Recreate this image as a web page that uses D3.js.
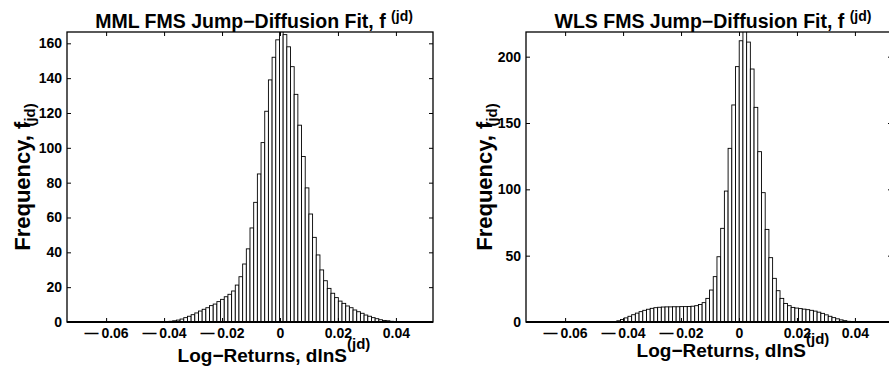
<!DOCTYPE html>
<html>
<head>
<meta charset="utf-8">
<script src="https://cdn.jsdelivr.net/npm/d3@7"></script>
<style>
  body { margin: 0; background: #fff; }
  svg text { font-family: "Liberation Sans", Arial, Helvetica, sans-serif; font-weight: bold; fill: #000; }
</style>
</head>
<body>
<svg id="chart" width="889" height="369"></svg>
<script>
// ---- data ----

// MML fit histogram: bin centre of the first bar, bin width, bar heights
const mmlFirstCenter = -0.03892;
const mmlBinWidth = 0.00127;
const mmlCounts = [
  0.2, 0.4, 0.7, 1.1, 1.7, 2.5, 3.3, 4.2, 5.2, 6.3, 7.3, 8.2, 9.4, 10.3, 11.7, 13,
  14.5, 15.9, 17.8, 21.2, 26, 33.3, 42, 54, 68.7, 85, 103, 121, 139, 152, 162,
  172,
  165, 158, 146.6, 130.7, 113, 95, 77, 62, 48.6, 38.5, 29.9, 23.7, 19.3, 16.5, 14,
  12, 10.7, 9.2, 8.2, 6.9, 5.9, 5, 4, 3.3, 2.5, 1.9, 1.3, 0.9, 0.7, 0.4, 0.2
];

// WLS fit histogram
const wlsFirstCenter = -0.0428;
const wlsBinWidth = 0.00128;
const wlsCounts = [
  0.3, 0.9, 1.9, 3.1, 4.3, 5.5, 6.7, 7.8, 8.8, 9.6, 10.3, 10.8, 11.1, 11.3, 11.4,
  11.4, 11.5, 11.5, 11.6, 11.6, 11.7, 11.9, 12.3, 13.2, 14.6, 17.8, 24.1, 34.2,
  49.2, 70.6, 98.7, 130.9, 163.6, 192.5, 212,
  225,
  211, 190.7, 161.8, 128.4, 97.5, 69.8, 48.5, 32.9, 23.6, 17.8, 14, 12.3, 11, 10.5,
  10.1, 9.7, 9.3, 8.8, 8.2, 7.4, 6.5, 5.4, 4.3, 3.3, 2.4, 1.6, 1.0, 0.5, 0.2
];

const xDomain = [-0.0735, 0.0528];
const xTicks = [-0.06, -0.04, -0.02, 0, 0.02, 0.04];
const mmlYMax = 166.5;
const mmlYTicks = [0, 20, 40, 60, 80, 100, 120, 140, 160];
const wlsYMax = 218.6;
const wlsYTicks = [0, 50, 100, 150, 200];

const titles = ["MML FMS Jump\u2212Diffusion Fit, f ", "WLS FMS Jump\u2212Diffusion Fit, f "];
const xLabel = "Log\u2212Returns, dlnS";
const yLabel = "Frequency, f";
const superText = "(jd)";

// ---- drawing ----
const svg = d3.select("#chart");
const plotW = 366, plotTop = 32, plotBottom = 322;

// matlab prints a long dash for negative ticks
const fmtX = d => d === 0 ? "0" : (d < 0 ? "\u2014\u2009" : "") + d3.format(".2f")(Math.abs(d));

function drawPanel(cfg) {

	const x = d3.scaleLinear()
				.domain(xDomain)
				.range([cfg.left, cfg.left + plotW]);

	const y = d3.scaleLinear()
				.domain([0, cfg.yMax])
				.range([plotBottom, plotTop]);

	const g = svg.append("g");

	// clip bars to the axes box
	g.append("clipPath")
		.attr("id", cfg.id + "-clip")
		.append("rect")
			.attr("x", cfg.left)
			.attr("y", plotTop)
			.attr("width", plotW)
			.attr("height", plotBottom - plotTop);

	const bins = cfg.counts.map((c, i) => {
		const mid = cfg.first + i * cfg.width;
		return {x0: mid - cfg.width / 2, x1: mid + cfg.width / 2, count: c};
	});

	g.append("g")
		.attr("clip-path", "url(#" + cfg.id + "-clip)")
		.selectAll("rect")
		.data(bins)
		.enter()
		.append("rect")
			.attr("x", d => x(d.x0))
			.attr("width", d => x(d.x1) - x(d.x0))
			.attr("y", d => y(d.count))
			.attr("height", d => y(0) - y(d.count))
			.attr("fill", "#fff")
			.attr("stroke", "#000")
			.attr("stroke-width", 0.9);

	// axes, ticks pointing inward like matlab
	g.append("g")
		.attr("transform", "translate(0," + plotBottom + ")")
		.call(d3.axisBottom(x).tickValues(xTicks).tickFormat(fmtX)
				.tickSizeInner(-4).tickSizeOuter(0).tickPadding(6));

	g.append("g")
		.attr("transform", "translate(0," + plotTop + ")")
		.call(d3.axisTop(x).tickValues(xTicks).tickFormat("")
				.tickSizeInner(-4).tickSizeOuter(0));

	g.append("g")
		.attr("transform", "translate(" + cfg.left + ",0)")
		.call(d3.axisLeft(y).tickValues(cfg.yTicks).tickFormat(d3.format("d"))
				.tickSizeInner(-4).tickSizeOuter(0).tickPadding(5));

	g.append("g")
		.attr("transform", "translate(" + (cfg.left + plotW) + ",0)")
		.call(d3.axisRight(y).tickValues(cfg.yTicks).tickFormat("")
				.tickSizeInner(-4).tickSizeOuter(0));

	g.selectAll(".domain").remove();
	g.selectAll(".tick line").attr("stroke", "#000").attr("stroke-width", 1);
	g.selectAll(".tick text")
		.style("font-size", "14px")
		.style("font-family", "'Liberation Sans', Arial, sans-serif")
		.style("font-weight", "bold");

	// box
	g.append("rect")
		.attr("x", cfg.left)
		.attr("y", plotTop)
		.attr("width", plotW)
		.attr("height", plotBottom - plotTop)
		.attr("fill", "none")
		.attr("stroke", "#000")
		.attr("stroke-width", 1.3);

	// empty bins make the baseline look heavier
	g.append("line")
		.attr("x1", cfg.left)
		.attr("x2", cfg.left + plotW)
		.attr("y1", y(0))
		.attr("y2", y(0))
		.attr("stroke", "#000")
		.attr("stroke-width", 1.8);

	const cx = cfg.left + plotW / 2;

	// title
	const t = g.append("text")
		.attr("x", cx + 4)
		.attr("y", 27.5)
		.attr("text-anchor", "middle")
		.style("font-size", "19.5px")
		.text(cfg.title);
	t.append("tspan")
		.attr("dy", -7)
		.style("font-size", "14px")
		.text(superText);

	// x label
	const xl = g.append("text")
		.attr("x", cx + 24)
		.attr("y", cfg.xLabelY)
		.attr("text-anchor", "middle")
		.style("font-size", "19px")
		.text(xLabel);
	xl.append("tspan")
		.attr("dy", -13)
		.style("font-size", "15px")
		.text(superText);

	// y label
	const yl = g.append("text")
		.attr("transform", "translate(" + (cfg.left - cfg.yLabelGap) + "," + ((plotTop + plotBottom) / 2) + ") rotate(-90)")
		.attr("text-anchor", "middle")
		.style("font-size", "22px")
		.text(yLabel);
	yl.append("tspan")
		.attr("dx", -5)
		.attr("dy", 5)
		.style("font-size", "15px")
		.text(superText);
}

drawPanel({id: "mml", left: 67, yMax: mmlYMax, yTicks: mmlYTicks,
		   counts: mmlCounts, first: mmlFirstCenter, width: mmlBinWidth,
		   title: titles[0], xLabelY: 362, yLabelGap: 37});

drawPanel({id: "wls", left: 526, yMax: wlsYMax, yTicks: wlsYTicks,
		   counts: wlsCounts, first: wlsFirstCenter, width: wlsBinWidth,
		   title: titles[1], xLabelY: 357, yLabelGap: 34});
</script>
</body>
</html>
